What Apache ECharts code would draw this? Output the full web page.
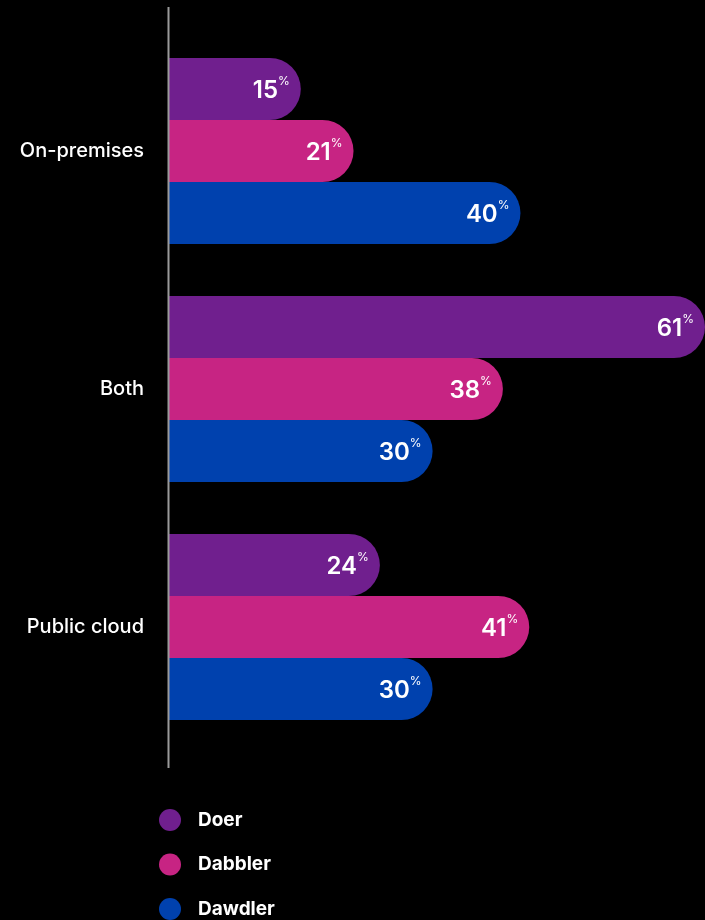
<!DOCTYPE html>
<html>
<head>
<meta charset="utf-8">
<script src="https://cdn.jsdelivr.net/npm/echarts@6/dist/echarts.min.js"></script>
<style>
 html, body { margin: 0; padding: 0; background: #000; }
 #chart { width: 705px; height: 920px; }
</style>
</head>
<body>
<div id="chart"></div>
<script>
const categories = ['On-premises', 'Both', 'Public cloud'];
const doer = [15, 61, 24];
const dabbler = [21, 38, 41];
const dawdler = [40, 30, 30];

const colors = ['#701f8e', '#c72483', '#0041ae'];

const chart = echarts.init(document.getElementById('chart'));

// label: number with a small raised % sign
const pctLabel = {
 show: true,
 position: 'insideRight',
 distance: 11,
 formatter: p => '{n|' + p.value + '}{p|%}',
 rich: {
 n: { color: '#fff', fontFamily: 'Inter', fontWeight: 600, fontSize: 24, lineHeight: 28, padding: [4, 0, 0, 0] },
 p: { color: '#fff', fontFamily: 'Inter', fontSize: 12, lineHeight: 28, verticalAlign: 'top', padding: [0, 0, 10, 0] }
 }
};

function bar(name, data) {
 return {
 name: name,
 type: 'bar',
 data: data,
 barWidth: 62,
 barGap: '0%',
 itemStyle: { borderRadius: [0, 31, 31, 0] },
 label: pctLabel
 };
}

const option = {
 backgroundColor: '#000',
 color: colors,
 animation: false,
 grid: { left: 169, right: 0, top: 32, bottom: 174 },
 xAxis: {
 type: 'value',
 min: 0,
 max: 61,
 show: false
 },
 yAxis: {
 type: 'category',
 data: categories,
 inverse: true,
 axisLine: { show: false },
 axisTick: { show: false },
 axisLabel: {
 color: '#fff',
 fontFamily: 'Inter',
 fontWeight: 500,
 fontSize: 20,
 margin: 25
 }
 },
 legend: {
 orient: 'vertical',
 left: 159,
 top: 809,
 height: 115,
 padding: 0,
 icon: 'circle',
 itemWidth: 22,
 itemHeight: 22,
 itemGap: 22.5,
 textStyle: {
 color: '#fff',
 fontFamily: 'Inter',
 fontWeight: 'bold',
 fontSize: 19,
 padding: [0, 0, 0, 12]
 },
 data: ['Doer', 'Dabbler', 'Dawdler']
 },
 graphic: [{
 type: 'line',
 shape: { x1: 168.5, y1: 7, x2: 168.5, y2: 768 },
 style: { stroke: '#9a9a9a', lineWidth: 2 },
 z: 10
 }],
 series: [
 bar('Doer', doer),
 bar('Dabbler', dabbler),
 bar('Dawdler', dawdler)
 ]
};

chart.setOption(option);
</script>
</body>
</html>
